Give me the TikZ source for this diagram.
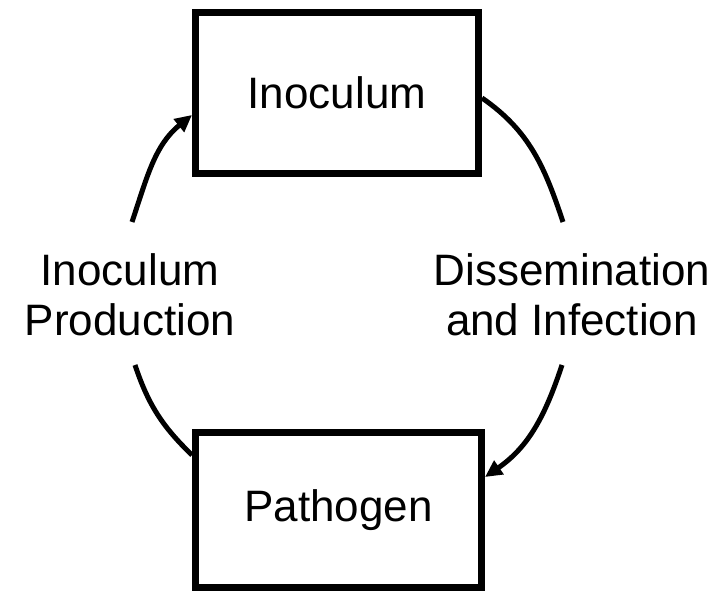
\documentclass[tikz,border=0pt]{standalone}
\usepackage{fontspec}
\setmainfont{Liberation Sans}
\usetikzlibrary{arrows.meta}
\begin{document}
\begin{tikzpicture}[x=1pt,y=1pt,
  box/.style={draw, line width=7pt, inner sep=0pt, font=\fontsize{44}{50}\selectfont},
  lbl/.style={align=center, inner sep=0pt, font=\fontsize{44}{50}\selectfont},
  conn/.style={line width=5pt},
  arr/.style={conn, -{Triangle[length=17pt,width=16pt]}}]
\useasboundingbox (0,0) rectangle (718,-593);
\node[box, minimum width=283pt, minimum height=161pt] (ino) at (337,-93) {Inoculum};
\node[box, minimum width=286pt, minimum height=154pt] (pat) at (338.5,-510) {Pathogen};
\node[lbl] (prod) at (130,-295) {Inoculum\\Production};
\node[lbl] (diss) at (572,-295) {Dissemination\\and Infection};
\coordinate (a1) at (132,-222);
\coordinate (a2) at (563,-222);
\coordinate (a3) at (562,-365);
\coordinate (a4) at (135,-365);
\draw[arr] (a1) to[out=71.5,in=219] ([yshift=-22pt]ino.west);
\draw[conn] ([yshift=-5pt]ino.east) to[out=-34.6,in=108.4] (a2);
\draw[arr] (a3) to[out=-108.3,in=34.6] ([yshift=33pt]pat.east);
\draw[conn] (a4) to[out=-71.5,in=136.1] ([yshift=55pt]pat.west);
\end{tikzpicture}
\end{document}
